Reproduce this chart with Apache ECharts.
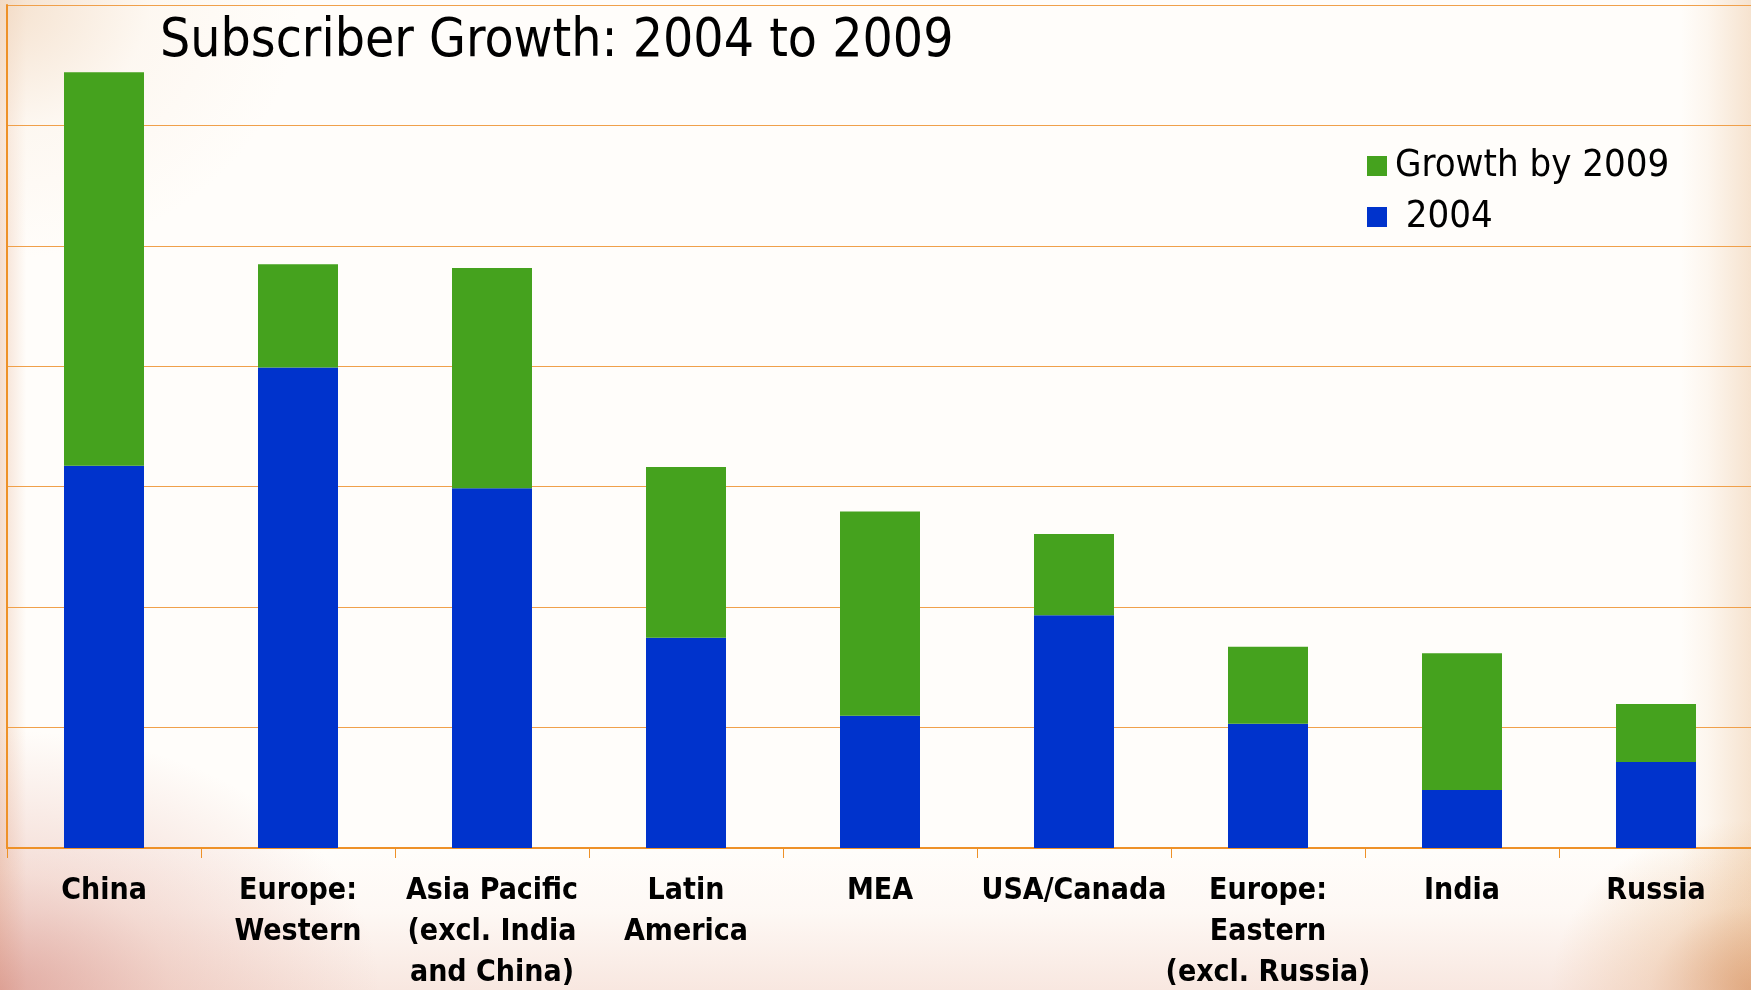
<!DOCTYPE html>
<html>
<head>
<meta charset="utf-8">
<script src="https://cdn.jsdelivr.net/npm/echarts@6/dist/echarts.min.js"></script>
<style>
html, body { margin: 0; padding: 0; }
body {
  width: 1751px; height: 990px; overflow: hidden;
  background:
    radial-gradient(ellipse 380px 260px at 0% 100%, rgba(205,120,110,0.55) 0%, rgba(220,150,135,0.3) 45%, rgba(240,200,190,0) 100%),
    linear-gradient(to top, rgba(235,190,175,0.35) 0%, rgba(245,215,205,0.12) 8%, rgba(255,255,255,0) 14%),
    radial-gradient(ellipse 200px 170px at 100% 100%, rgba(210,135,70,0.75) 0%, rgba(230,175,120,0.35) 50%, rgba(255,255,255,0) 100%),
    linear-gradient(to left, rgba(235,195,155,0.45) 0%, rgba(245,218,192,0.2) 2.5%, rgba(255,255,255,0) 4%),
    radial-gradient(ellipse 300px 260px at 0% 0%, rgba(242,218,195,0.8) 0%, rgba(250,238,225,0.35) 50%, rgba(255,255,255,0) 100%),
    linear-gradient(to right, rgba(236,195,170,0.55) 0%, rgba(255,255,255,0) 1.5%),
    #fffdfa;
}
#chart { width: 1751px; height: 990px; }
</style>
</head>
<body>
<div id="chart"></div>
<script>
const categories = ['China', 'Europe:\nWestern', 'Asia Pacific\n(excl. India\nand China)', 'Latin\nAmerica', 'MEA', 'USA/Canada', 'Europe:\nEastern\n(excl. Russia)', 'India', 'Russia'];
const base2004 = [158.7, 199.5, 149.4, 87.3, 54.9, 96.6, 51.6, 24.1, 35.7];
const growth2009 = [163.4, 42.9, 91.4, 70.9, 84.8, 33.8, 32.0, 56.8, 24.1];
const seriesNames = ['2004', 'Growth by 2009'];

const chart = echarts.init(document.getElementById('chart'), null, { renderer: 'canvas' });
const orange = '#EE9128';
chart.setOption({
  backgroundColor: 'transparent',
  animation: false,
  title: {
    text: 'Subscriber Growth: 2004 to 2009',
    left: 160, top: 12, padding: 0,
    textStyle: { fontFamily: '"DejaVu Sans Condensed", "DejaVu Sans", sans-serif', fontSize: 53, fontWeight: 'normal', color: '#000', lineHeight: 60 }
  },
  legend: {
    data: ['Growth by 2009', '2004'],
    orient: 'vertical', left: 1367, top: 146, padding: 0,
    itemWidth: 20, itemHeight: 20, itemGap: 11, icon: 'rect',
    formatter: function (n) { return n === '2004' ? ' ' + n : n; },
    textStyle: { fontFamily: '"DejaVu Sans Condensed", "DejaVu Sans", sans-serif', fontSize: 38, color: '#000', lineHeight: 40, padding: [0, 0, 0, 3] },
    itemStyle: { borderWidth: 0 }
  },
  grid: { left: 7, right: -2, top: 5, bottom: 142, containLabel: false, outerBoundsMode: 'none' },
  xAxis: {
    type: 'category', data: categories,
    axisLine: { show: true, lineStyle: { color: orange, width: 2 } },
    axisTick: { show: true, length: 10, lineStyle: { color: orange, width: 1 } },
    axisLabel: {
      margin: 23, interval: 0, color: '#000',
      fontFamily: '"DejaVu Sans Condensed", "DejaVu Sans", sans-serif',
      fontWeight: 'bold', fontSize: 30, lineHeight: 41
    }
  },
  yAxis: {
    type: 'value', min: 0, max: 350, interval: 50,
    axisLine: { show: true, lineStyle: { color: orange, width: 2 } },
    axisTick: { show: false },
    axisLabel: { show: false },
    splitLine: { show: true, lineStyle: { color: '#F0A04A', width: 1.2 } }
  },
  series: [
    { name: seriesNames[0], type: 'bar', stack: 'total', data: base2004, barWidth: 80, itemStyle: { color: '#0033CC' } },
    { name: seriesNames[1], type: 'bar', stack: 'total', data: growth2009, barWidth: 80, itemStyle: { color: '#45A21E' } }
  ]
});
</script>
</body>
</html>
